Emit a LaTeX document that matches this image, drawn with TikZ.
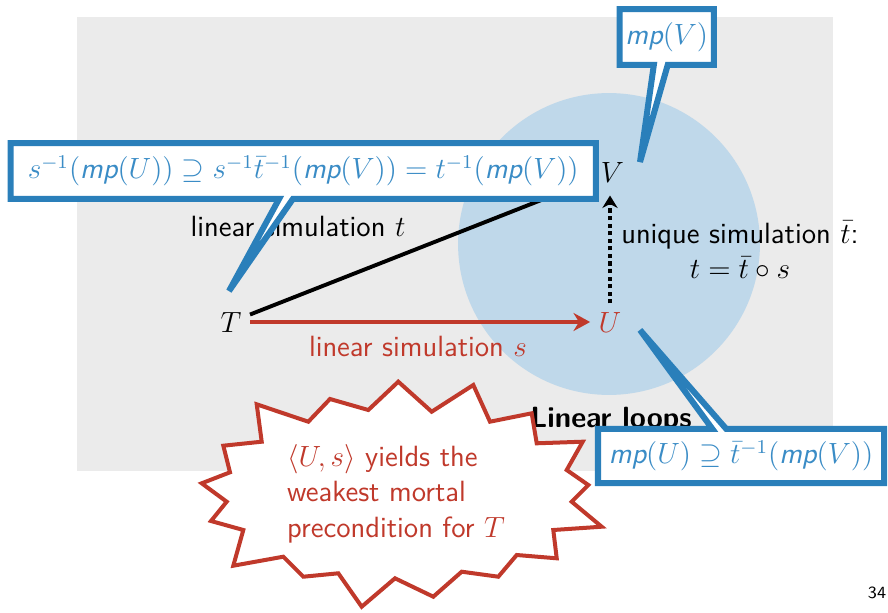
\documentclass[tikz,border=0pt]{standalone}
\usepackage{amssymb}
\usetikzlibrary{shapes.callouts,arrows.meta}
\definecolor{bgray}{RGB}{235,235,235}
\definecolor{lblue}{RGB}{191,216,234}
\definecolor{cblue}{RGB}{42,127,186}
\definecolor{tblue}{RGB}{58,140,198}
\definecolor{dred}{RGB}{192,57,43}
\newcommand{\mpf}{\textsf{\itshape mp}}
\begin{document}
\begin{tikzpicture}[x=0.0144cm,y=-0.0144cm,
  font=\sffamily\fontsize{12}{14.5}\selectfont,
  callbox/.style={rectangle callout, draw=cblue, fill=white, line width=2.46pt,
    text=tblue, callout pointer width=0.2cm, inner sep=0pt},
  thickline/.style={line width=1.6pt},
  dotarrow/.style={line width=1.4pt, dash pattern=on 1.7pt off 1.4pt,
    -{Stealth[length=1.8mm,width=2.2mm]}},
  redarrow/.style={dred, line width=1.6pt, -{Stealth[length=2.4mm,width=2.6mm,inset=0.8mm]}},
  burst/.style={draw=dred, fill=white, line width=1.64pt, line join=miter}]
\useasboundingbox (0,0) rectangle (888,612);
\fill[bgray] (76.5,16.7) rectangle (832.7,470.7);
\fill[lblue] (609,244) circle [radius=2.174cm];

\node (T) at (231,322) {$T$};
\node[text=dred] (U) at (610,322) {$U$};
\node (V) at (612.5,172) {$V$};

\draw[thickline] (T) -- (V);
\draw[redarrow] (T) -- (U);
\draw[dotarrow, shorten >=2pt] (U.north) -- (U.north |- V.south);

\node (lt) at (298,226) {linear simulation $t$};
\node[text=dred] (ls) at (418,346) {linear simulation $s$};
\node[align=center] (ut) at (740,250) {unique simulation $\bar t$:\\ $t=\bar t\circ s$};
\node[font=\sffamily\bfseries\fontsize{12}{14.5}\selectfont, anchor=base] (ll) at (611,427) {Linear loops};

\draw[burst] (398.3,381.7) -- (368.3,410) -- (330,399) -- (308.3,421.7) -- (256.7,404.3)
  -- (261.7,441.7) -- (223.3,445.7) -- (230,472.3) -- (201.7,483.3) -- (226.7,501.7)
  -- (211,521) -- (243.3,530) -- (233.3,565.7) -- (283.3,556.7) -- (303.3,576.7)
  -- (338.3,573.3) -- (361.7,606.7) -- (395,578.3) -- (433.3,596.7) -- (461.7,571.7)
  -- (498.3,576.7) -- (516.7,555) -- (556.7,558.3) -- (553.3,530) -- (601.7,526.7)
  -- (571.7,501.7) -- (588.3,485) -- (566.7,470) -- (582.7,441.7) -- (536.7,443.3)
  -- (531.7,413.3) -- (490,421.7) -- (473.3,385) -- (431.7,411.7) -- cycle;
\node[text=dred, align=left, anchor=west, inner sep=0pt] (msg) at (286.7,493.5)
  {$\langle U,s\rangle$ yields the\\ weakest mortal\\ precondition for $T$};

\node[callbox, minimum width=8.43cm, minimum height=0.80cm,
  callout absolute pointer={(229,291)}] (c1) at (303.25,171)
  {$s^{-1}(\mpf(U))\supseteq s^{-1}\bar{t}^{-1}(\mpf(V))=t^{-1}(\mpf(V))$};
\node[callbox, minimum width=1.36cm, minimum height=0.806cm,
  callout absolute pointer={(640,162)}] (c2) at (666.75,37) {$\mpf(V)$};
\node[callbox, minimum width=4.12cm, minimum height=0.78cm,
  callout absolute pointer={(640,330)}] (c3) at (741,456)
  {$\mpf(U)\supseteq \bar{t}^{-1}(\mpf(V))$};

\node[font=\sffamily\fontsize{7}{8}\selectfont] (pg) at (877,593) {34};
\end{tikzpicture}
\end{document}
